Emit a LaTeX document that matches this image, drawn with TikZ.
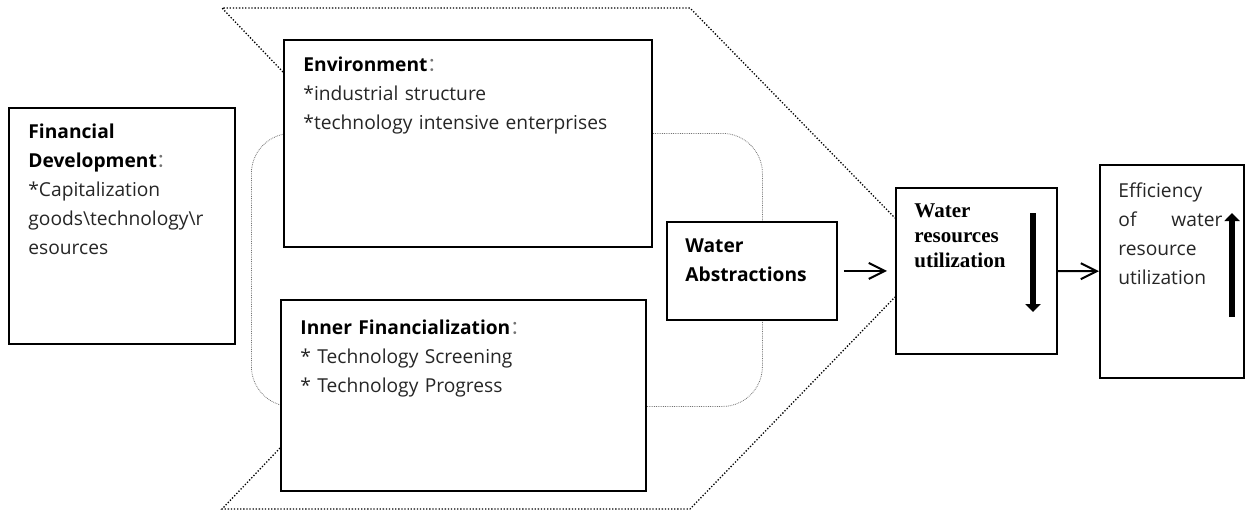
\documentclass[tikz,border=0pt]{standalone}
\usepackage{fontspec}
\setmainfont{Open Sans}
\newfontfamily\cjk{Noto Sans CJK SC}
\newfontfamily\timesf{Liberation Serif}
\usetikzlibrary{arrows.meta}
\def\fwcolon{{\cjk\color{black!55}：}}
\def\hd#1{\textcolor{black}{\bfseries #1}}

\begin{document}
\begin{tikzpicture}[x=0.5pt, y=-0.5pt,
		box/.style={draw, line width=0.9pt, fill=white, anchor=north west, inner sep=0pt},
		txt/.style={anchor=base west, inner sep=0pt, align=left, text=black!85, font=\fontsize{9.6}{14.5}\selectfont},
		chev/.style={line width=0.65pt, dash pattern=on 0.65pt off 0.9pt},
		grp/.style={draw=black!55, line width=0.4pt, dash pattern=on 0.4pt off 0.5pt, rounded corners=20pt, anchor=north west, inner sep=0pt},
		flow/.style={line width=1pt, -{Straight Barb[length=8pt, width=8pt]}},
		trend/.style={line width=3.2pt, -{Triangle[length=4pt, width=7.5pt]}}]
	%%%%% START %%%%%
	\useasboundingbox (0,0) rectangle (1245,511);
	
	\node[grp, minimum width=255.5pt, minimum height=136.5pt] (grp) at (251,133) {};
	
	\node[box, minimum width=113pt, minimum height=118pt] (fin) at (8,107) {};
	\node[box, minimum width=184pt, minimum height=103.5pt] (env) at (283,39) {};
	\node[box, minimum width=182.5pt, minimum height=95.5pt] (inner) at (280,299) {};
	\node[box, minimum width=85pt, minimum height=49pt] (wab) at (666,221) {};
	\node[box, minimum width=80.5pt, minimum height=83pt] (wru) at (895,187) {};
	\node[box, minimum width=72pt, minimum height=106.5pt] (eff) at (1099,164) {};
	
	% dotted chevron round the middle
	\coordinate (tl) at (222,8);
	\coordinate (tr) at (690,8);
	\coordinate (bl) at (222,509);
	\coordinate (br) at (690,509);
	\draw[chev] (env.west |- 0,72) -- (tl) -- (tr) -- (wru.west |- 0,218);
	\draw[chev] (inner.west |- 0,448) -- (bl) -- (br) -- (wru.west |- 0,297);
	
	\node[txt, text width=105pt] (fintxt) at (28,138) {\hd{Financial}\\\hd{Development}\fwcolon\\{*}Capitalization\\goods\textbackslash technology\textbackslash r\\esources};
	\node[txt, text width=170pt] (envtxt) at (303,71) {\hd{Environment}\fwcolon\\{*}industrial structure\\{*}technology intensive enterprises};
	\node[txt, text width=170pt] (innertxt) at (300,334) {\hd{Inner Financialization}\fwcolon\\{*} Technology Screening\\{*} Technology Progress};
	\node[txt, text width=75pt] (wabtxt) at (685,252) {\hd{Water}\\\hd{Abstractions}};
	\node[txt, text width=65pt, font=\timesf\bfseries\fontsize{10.5}{12.5}\selectfont, text=black] (wrutxt) at (914,217) {Water\\resources\\utilization};
	\node[txt, text width=55pt] (efftxt) at (1118,197) {Efficiency\\\makebox[52pt][l]{of\hfill water}\\resource\\utilization};
	
	\draw[flow, shorten <=3pt, shorten >=4pt] (wab) -- (wru);
	\draw[flow] (wru) -- (eff);
	
	\coordinate (dnS) at (1033,213);
	\coordinate (dnE) at (1033,312);
	\coordinate (upS) at (1232,317);
	\coordinate (upE) at (1232,213);
	\draw[trend] (dnS) -- (dnE);
	\draw[trend] (upS) -- (upE);
	
	%%%%% END %%%%%
\end{tikzpicture}
\end{document}
